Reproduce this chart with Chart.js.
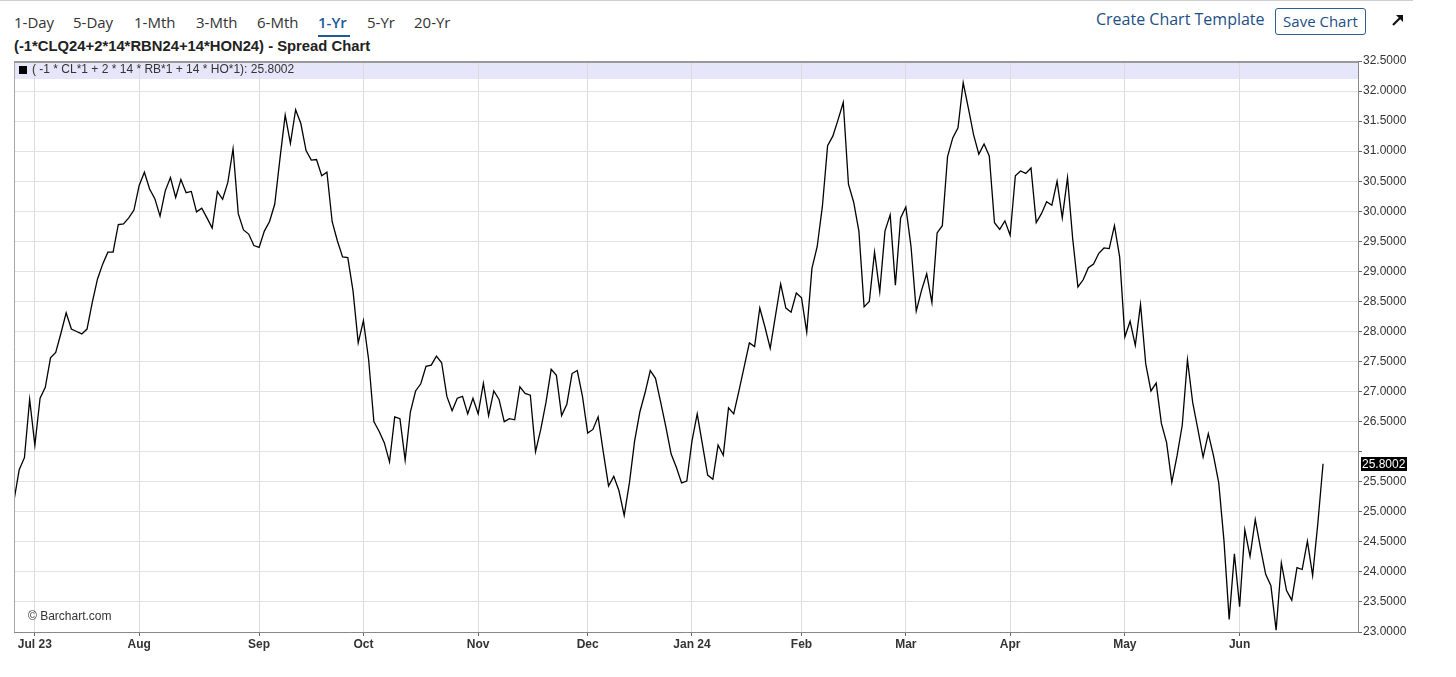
<!DOCTYPE html>
<html><head><meta charset="utf-8">
<script src="https://cdn.jsdelivr.net/npm/chart.js@4.4.1/dist/chart.umd.min.js"></script>
<style>
html,body{margin:0;padding:0;background:#fff;}
body{width:1456px;height:677px;overflow:hidden;position:relative;font-family:"Open Sans",sans-serif;}
.topline{position:absolute;left:0;top:0;width:1413px;height:1px;background:#cfcfcf;}
.tf{position:absolute;top:12px;font-size:15px;color:#333;white-space:nowrap;}
.tf.sel{color:#1d5b9b;font-weight:600;}
.uline{position:absolute;left:318px;top:35px;width:32px;height:2px;background:#1d5b9b;}
.title{position:absolute;left:14px;top:38px;font-family:"Liberation Sans",Arial,sans-serif;font-weight:bold;font-size:14.8px;color:#222;white-space:nowrap;}
.cct{position:absolute;left:1096px;top:8px;font-size:16px;color:#1d4f86;white-space:nowrap;}
.save{position:absolute;left:1275px;top:8px;border:1px solid #2c5f94;border-radius:3px;font-size:15px;color:#1d4f86;text-align:center;line-height:24px;box-sizing:border-box;width:91px;height:27px;}
.arrow{position:absolute;left:1390px;top:12px;}
#wrap{position:absolute;left:0;top:50px;width:1420px;height:610px;}
.leg{position:absolute;left:32px;top:62px;font-family:"Liberation Sans",Arial,sans-serif;font-size:12px;color:#333;white-space:nowrap;}
.legsq{position:absolute;left:19px;top:66px;width:8px;height:8px;background:#000;}
.copy{position:absolute;left:28px;top:609px;font-family:"Liberation Sans",Arial,sans-serif;font-size:12px;color:#333;white-space:nowrap;}
</style></head><body>
<div class="topline"></div>
<div class="tf" style="left:14px">1-Day</div>
<div class="tf" style="left:73px">5-Day</div>
<div class="tf" style="left:134px">1-Mth</div>
<div class="tf" style="left:196px">3-Mth</div>
<div class="tf" style="left:257px">6-Mth</div>
<div class="tf sel" style="left:318px">1-Yr</div>
<div class="uline"></div>
<div class="tf" style="left:367px">5-Yr</div>
<div class="tf" style="left:414px">20-Yr</div>
<div class="title">(-1*CLQ24+2*14*RBN24+14*HON24) - Spread Chart</div>
<div class="cct">Create Chart Template</div>
<div class="save">Save Chart</div>
<svg class="arrow" width="16" height="16" viewBox="0 0 16 16"><path d="M3 13 L12 4" stroke="#111" stroke-width="2.2" fill="none"/><path d="M6 3 L13 3 L13 10 Z" fill="#111"/></svg>
<div id="wrap"><canvas id="c"></canvas></div>
<div class="legsq"></div>
<div class="leg">( -1 * CL*1 + 2 * 14 * RB*1 + 14 * HO*1): 25.8002</div>
<div class="copy">© Barchart.com</div>
<script>
// Daily closes of the spread, one array per month (trading days)
const jun23 = [25.19, 25.70, 25.90, 26.87];
const jul23 = [26.11, 26.89, 27.07, 27.56, 27.65, 27.97, 28.31, 28.04, 28.00, 27.96, 28.04, 28.48, 28.87, 29.12, 29.32, 29.32, 29.78, 29.79, 29.89, 30.02];
const aug23 = [30.43, 30.65, 30.37, 30.21, 29.92, 30.34, 30.56, 30.23, 30.53, 30.31, 30.33, 29.99, 30.05, 29.89, 29.72, 30.33, 30.20, 30.48, 31.04, 29.96, 29.69, 29.62, 29.43];
const sep23 = [29.40, 29.67, 29.83, 30.12, 30.88, 31.60, 31.13, 31.69, 31.46, 31.01, 30.85, 30.86, 30.59, 30.65, 29.83, 29.51, 29.24, 29.23, 28.68, 27.81];
const oct23 = [28.18, 27.53, 26.50, 26.34, 26.15, 25.83, 26.58, 26.55, 25.86, 26.66, 27.01, 27.13, 27.42, 27.44, 27.59, 27.48, 26.92, 26.68, 26.89, 26.92, 26.63, 26.89];
const nov23 = [26.63, 27.14, 26.60, 27.01, 26.87, 26.50, 26.55, 26.53, 27.08, 26.97, 26.94, 26.00, 26.37, 26.82, 27.37, 27.27, 26.60, 26.79, 27.30, 27.35, 26.92];
const dec23 = [26.31, 26.37, 26.58, 25.99, 25.43, 25.59, 25.35, 24.94, 25.48, 26.18, 26.66, 26.98, 27.35, 27.22, 26.82, 26.41, 25.96, 25.74, 25.48, 25.51];
const jan24 = [26.18, 26.63, 26.12, 25.61, 25.54, 26.11, 25.94, 26.73, 26.63, 27.01, 27.41, 27.81, 27.75, 28.39, 28.07, 27.72, 28.26, 28.79, 28.39, 28.32, 28.64];
const feb24 = [28.56, 27.99, 29.05, 29.41, 30.08, 31.09, 31.25, 31.52, 31.81, 30.45, 30.15, 29.67, 28.41, 28.50, 29.32, 28.66, 29.67, 29.94, 28.77, 29.89];
const mar24 = [30.07, 29.41, 28.34, 28.68, 28.96, 28.48, 29.64, 29.76, 30.91, 31.22, 31.39, 32.14, 31.71, 31.27, 30.95, 31.12, 30.92, 29.81, 29.70, 29.84];
const apr24 = [29.60, 30.59, 30.67, 30.63, 30.72, 29.81, 29.96, 30.16, 30.10, 30.50, 29.89, 30.56, 29.54, 28.74, 28.86, 29.06, 29.12, 29.30, 29.39, 29.38, 29.76, 29.24];
const may24 = [27.91, 28.17, 27.77, 28.45, 27.46, 27.01, 27.14, 26.47, 26.15, 25.49, 25.93, 26.44, 27.53, 26.82, 26.37, 25.91, 26.30, 25.93, 25.48, 24.52, 23.21, 24.30];
const jun24 = [23.42, 24.70, 24.26, 24.87, 24.40, 23.96, 23.77, 23.03, 24.15, 23.69, 23.53, 24.07, 24.04, 24.51, 23.94, 24.81, 25.8002];

const months = [jun23, jul23, aug23, sep23, oct23, nov23, dec23, jan24, feb24, mar24, apr24, may24, jun24];
const monthLabels = [null, 'Jul 23', 'Aug', 'Sep', 'Oct', 'Nov', 'Dec', 'Jan 24', 'Feb', 'Mar', 'Apr', 'May', 'Jun'];
const yTicks = [23.0, 23.5, 24.0, 24.5, 25.0, 25.5, 26.0, 26.5, 27.0, 27.5, 28.0, 28.5, 29.0, 29.5, 30.0, 30.5, 31.0, 31.5, 32.0, 32.5];

const values = months.flat();
const lastValue = values[values.length - 1];
const monthStarts = [];
const monthTickLabels = [];
let acc = 0;
months.forEach((m, k) => {
  if (monthLabels[k]) { monthStarts.push(acc); monthTickLabels.push(monthLabels[k]); }
  acc += m.length;
});
const points = values.map((v, i) => ({x: i, y: v}));

const chrome = {
  id: 'chrome',
  beforeDraw(chart) {
    const {ctx, chartArea: a} = chart;
    ctx.save();
    ctx.fillStyle = '#e6e6fa';
    ctx.fillRect(a.left, a.top + 1, a.right - a.left, 17);
    ctx.restore();
  },
  afterDraw(chart) {
    const {ctx, chartArea: a} = chart;
    const ys = chart.scales.y;
    ctx.save();
    ctx.strokeStyle = '#a8a8a8';
    ctx.lineWidth = 1;
    ctx.beginPath(); ctx.moveTo(a.left + 0.5, a.top); ctx.lineTo(a.left + 0.5, a.bottom); ctx.stroke();
    ctx.strokeStyle = '#999';
    ctx.lineWidth = 2;
    ctx.beginPath(); ctx.moveTo(a.left, a.top + 1); ctx.lineTo(a.right, a.top + 1); ctx.stroke();
    const y = ys.getPixelForValue(lastValue);
    ctx.fillStyle = '#000';
    ctx.fillRect(a.right + 3, Math.round(y) - 7, 46, 14);
    ctx.fillStyle = '#fff';
    ctx.font = '12px "Liberation Sans", Arial, sans-serif';
    ctx.textBaseline = 'middle';
    ctx.textAlign = 'left';
    ctx.fillText(lastValue.toFixed(4), a.right + 4, Math.round(y) + 0.5);
    ctx.restore();
  }
};

new Chart(document.getElementById('c'), {
  type: 'line',
  data: { datasets: [{ data: points, borderColor: '#000', borderWidth: 1.3, pointRadius: 0, tension: 0, fill: false }] },
  options: {
    responsive: true, maintainAspectRatio: false, animation: false, devicePixelRatio: 1,
    layout: { padding: { left: 14, top: 11, right: 0, bottom: 0 } },
    plugins: { legend: { display: false }, tooltip: { enabled: false } },
    scales: {
      x: {
        type: 'linear', min: 0, max: 257.7,
        afterBuildTicks(s) { s.ticks = monthStarts.map(v => ({ value: v })); },
        afterFit(s) { s.height = 28; },
        ticks: {
          autoSkip: false, maxRotation: 0, padding: 1,
          color: '#333', font: { family: '"Liberation Sans", Arial, sans-serif', size: 12, weight: 'bold' },
          callback(v, i) { return monthTickLabels[i]; }
        },
        grid: { color: '#dcdcdc', tickColor: '#666', tickLength: 4, drawTicks: true },
        border: { color: '#888', width: 1 }
      },
      y: {
        position: 'right', min: 23, max: 32.5,
        afterBuildTicks(s) { s.ticks = yTicks.map(v => ({ value: v })); },
        afterFit(s) { s.width = 62; },
        ticks: {
          padding: 1, color: '#333',
          font: { family: '"Liberation Sans", Arial, sans-serif', size: 12 },
          callback(v) { return Math.abs(v - lastValue) < 0.25 ? '' : v.toFixed(4); }
        },
        grid: { color: '#e2e2e2', tickColor: '#666', tickLength: 4 },
        border: { color: '#888', width: 1 }
      }
    }
  },
  plugins: [chrome]
});
</script>
</body></html>
